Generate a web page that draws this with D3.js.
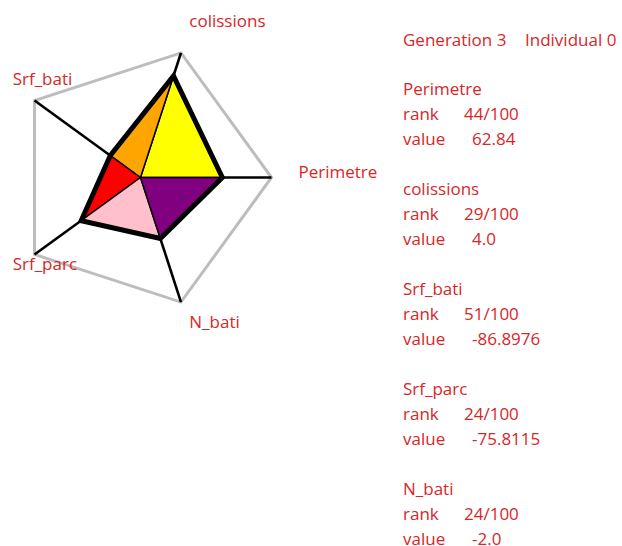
<!DOCTYPE html>
<html>
<head>
<meta charset="utf-8">
<script src="https://cdn.jsdelivr.net/npm/d3@7"></script>
<style>
  html, body { margin: 0; padding: 0; background: #fff; }
  svg text { font-family: "Segoe UI", "Open Sans", "Noto Sans", sans-serif; font-size: 17px; fill: #d62728; }
</style>
</head>
<body>
<svg id="chart" width="622" height="546"></svg>
<script>
// Objectives of the individual, in axis order (counter-clockwise from the right)
const criteria = ["Perimetre", "colissions", "Srf_bati", "Srf_parc", "N_bati"];
const scores   = [0.625, 0.815, 0.285, 0.56, 0.49];   // normalised position on each axis
const ranks    = ["44/100", "29/100", "51/100", "24/100", "24/100"];
const values   = ["62.84", "4.0", "-86.8976", "-75.8115", "-2.0"];
const sectorColors = ["yellow", "orange", "red", "pink", "purple"];
const generation = 3, individual = 0;

const svg = d3.select("#chart");
const cx = 140.5, cy = 177.5, R = 131;

const angle = d3.scaleLinear().domain([0, criteria.length]).range([0, -2 * Math.PI]);
const radius = d3.scaleLinear().domain([0, 1]).range([0, R]);
const pt = (i, v) => [cx + radius(v) * Math.cos(angle(i)), cy + radius(v) * Math.sin(angle(i))];

const g = svg.append("g");

// outer frame
g.append("polygon")
  .attr("points", criteria.map((_, i) => pt(i, 1).join(",")).join(" "))
  .attr("fill", "none").attr("stroke", "#bdbdbd").attr("stroke-width", 3);

// axes
g.selectAll("line.axis").data(criteria).join("line")
  .attr("class", "axis")
  .attr("x1", cx).attr("y1", cy)
  .attr("x2", (d, i) => pt(i, 1)[0]).attr("y2", (d, i) => pt(i, 1)[1])
  .attr("stroke", "#000").attr("stroke-width", 2.6);

// coloured sectors between consecutive axes
g.selectAll("polygon.sector").data(criteria).join("polygon")
  .attr("class", "sector")
  .attr("points", (d, i) => {
    const j = (i + 1) % criteria.length;
    return [[cx, cy], pt(i, scores[i]), pt(j, scores[j])].map(p => p.join(",")).join(" ");
  })
  .attr("fill", (d, i) => sectorColors[i])
  .attr("stroke", "#000").attr("stroke-width", 1.5).attr("stroke-linejoin", "round");

// bold outline of the individual
g.append("polygon")
  .attr("points", criteria.map((_, i) => pt(i, scores[i]).join(",")).join(" "))
  .attr("fill", "none").attr("stroke", "#000").attr("stroke-width", 5)
  .attr("stroke-linejoin", "miter");

// axis labels
g.selectAll("text.label").data(criteria).join("text")
  .attr("class", "label")
  .attr("x", (d, i) => cx + 158 * Math.cos(angle(i)))
  .attr("y", (d, i) => cy + 158 * Math.sin(angle(i)))
  .text(d => d);

// description panel
const info = svg.append("g");
const x0 = 403, step = 24.95, y0 = 45.5;
info.append("text").attr("x", x0).attr("y", y0).text("Generation " + generation);
info.append("text").attr("x", 525).attr("y", y0).text("Individual " + individual);

criteria.forEach((c, i) => {
  const y = y0 + step * (2 + 4 * i);
  info.append("text").attr("x", x0).attr("y", y).text(c);
  info.append("text").attr("x", x0).attr("y", y + step).text("rank");
  info.append("text").attr("x", 464).attr("y", y + step).text(ranks[i]);
  info.append("text").attr("x", x0).attr("y", y + 2 * step).text("value");
  info.append("text").attr("x", 472).attr("y", y + 2 * step).text(values[i]);
});
</script>
</body>
</html>
